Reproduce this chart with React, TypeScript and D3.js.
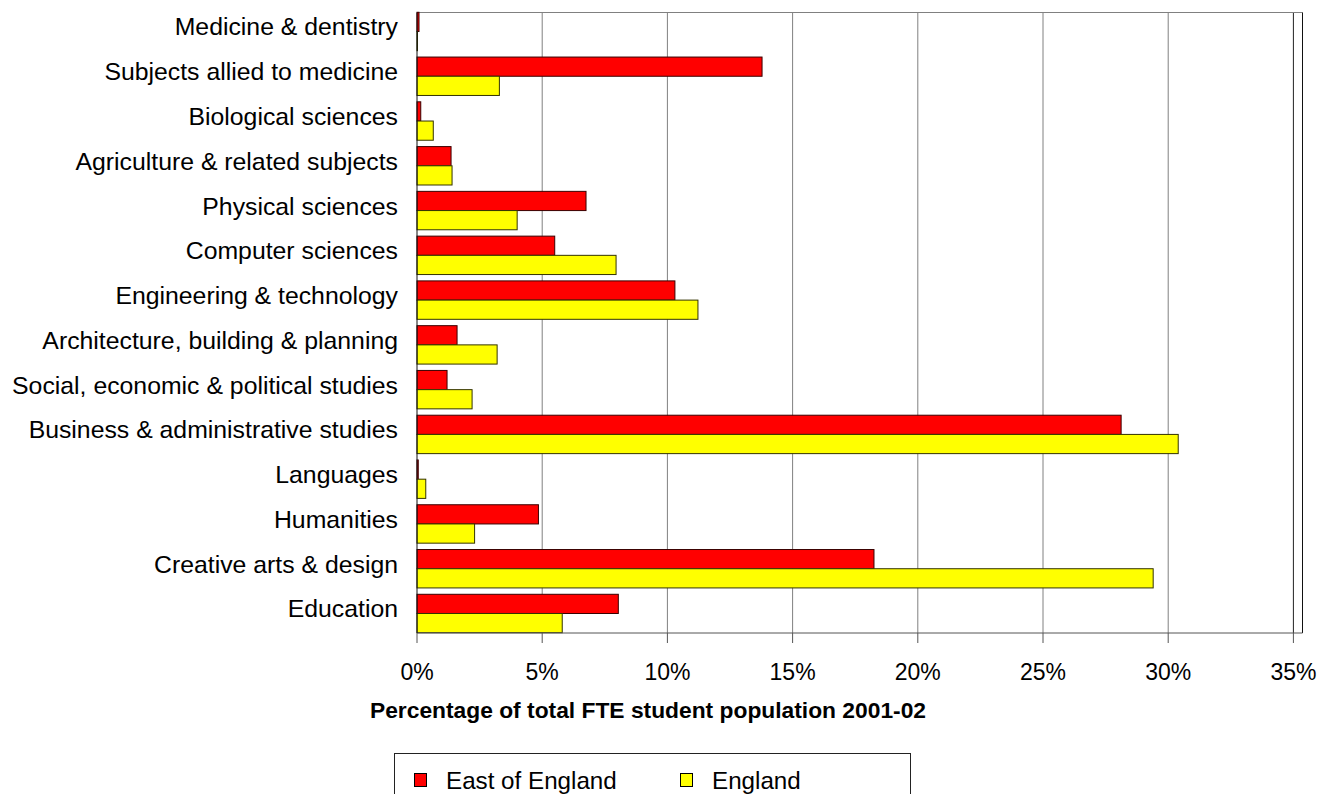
import React from "react";
import * as d3 from "d3";

const categories = [
  "Medicine & dentistry",
  "Subjects allied to medicine",
  "Biological sciences",
  "Agriculture & related subjects",
  "Physical sciences",
  "Computer sciences",
  "Engineering & technology",
  "Architecture, building & planning",
  "Social, economic & political studies",
  "Business & administrative studies",
  "Languages",
  "Humanities",
  "Creative arts & design",
  "Education",
];

const eastOfEngland = [0.08, 13.78, 0.15, 1.36, 6.75, 5.5, 10.3, 1.6, 1.2, 28.12, 0.05, 4.85, 18.25, 8.04];
const england = [0.02, 3.29, 0.65, 1.4, 4.0, 7.95, 11.22, 3.2, 2.2, 30.4, 0.35, 2.3, 29.4, 5.8];

const ticks = [0, 5, 10, 15, 20, 25, 30, 35];
const seriesNames = ["East of England", "England"];
const colors = ["#FF0000", "#FFFF00"];

const W = 1322;
const H = 794;
const left = 417;
const right = 1302.5;
const top = 12.5;
const bottom = 633;

export default function App() {
  const x = d3.scaleLinear().domain([0, 35]).range([left, 1293.4]);
  const y = d3
    .scaleBand<string>()
    .domain(categories)
    .range([9.1, 9.1 + 14 * 44.77])
    .paddingInner(0.142)
    .paddingOuter(0.071);
  const bw = y.bandwidth() / 2;
  const font = "Arial, 'Liberation Sans', sans-serif";

  return (
    <svg
      width={W}
      height={H}
      style={{ position: "absolute", left: 0, top: 0, background: "#fff" }}
      fontFamily={font}
    >
      {/* gridlines */}
      {ticks.slice(1).map((t) => (
        <line
          key={"g" + t}
          x1={x(t)}
          x2={x(t)}
          y1={top}
          y2={bottom}
          stroke={t === 35 ? "#222" : "#808080"}
          strokeWidth={1}
        />
      ))}
      {/* top and right borders */}
      <line x1={left} x2={right} y1={top} y2={top} stroke="#808080" />
      <line x1={right} x2={right} y1={top} y2={bottom} stroke="#111" />

      {/* bars */}
      {categories.map((c, i) => (
        <g key={c}>
          <rect
            x={x(0)}
            y={y(c)!}
            width={Math.max(0, x(eastOfEngland[i]) - x(0))}
            height={bw}
            fill={colors[0]}
            stroke="#3a0000"
            strokeWidth={1}
          />
          <rect
            x={x(0)}
            y={y(c)! + bw}
            width={Math.max(0, x(england[i]) - x(0))}
            height={bw}
            fill={colors[1]}
            stroke="#333300"
            strokeWidth={1}
          />
        </g>
      ))}

      {/* axes */}
      <line x1={left} x2={right} y1={bottom} y2={bottom} stroke="#555" />
      <line x1={left} x2={left} y1={top} y2={bottom} stroke="#111" />
      {ticks.map((t) => (
        <g key={"t" + t}>
          <line x1={x(t)} x2={x(t)} y1={bottom} y2={bottom + 10} stroke="#555" />
          <text x={x(t)} y={680} textAnchor="middle" fontSize={23} fill="#000">
            {t + "%"}
          </text>
        </g>
      ))}

      {/* category labels */}
      {categories.map((c) => (
        <text
          key={"l" + c}
          x={398}
          y={y(c)! + y.bandwidth() / 2 - 4.5}
          textAnchor="end"
          fontSize={24.8}
          fill="#000"
          dominantBaseline="central"
        >
          {c}
        </text>
      ))}

      {/* axis title */}
      <text x={648} y={718} textAnchor="middle" fontSize={22.8} fontWeight="bold" fill="#000">
        Percentage of total FTE student population 2001-02
      </text>

      {/* legend */}
      <rect x={394.5} y={753.5} width={516} height={60} fill="#fff" stroke="#222" />
      {seriesNames.map((s, i) => (
        <g key={s}>
          <rect
            x={[414.5, 680.5][i]}
            y={773.5}
            width={12}
            height={13}
            fill={colors[i]}
            stroke="#000"
          />
          <text x={[446, 712][i]} y={789} fontSize={24.2} fill="#000">
            {s}
          </text>
        </g>
      ))}
    </svg>
  );
}
